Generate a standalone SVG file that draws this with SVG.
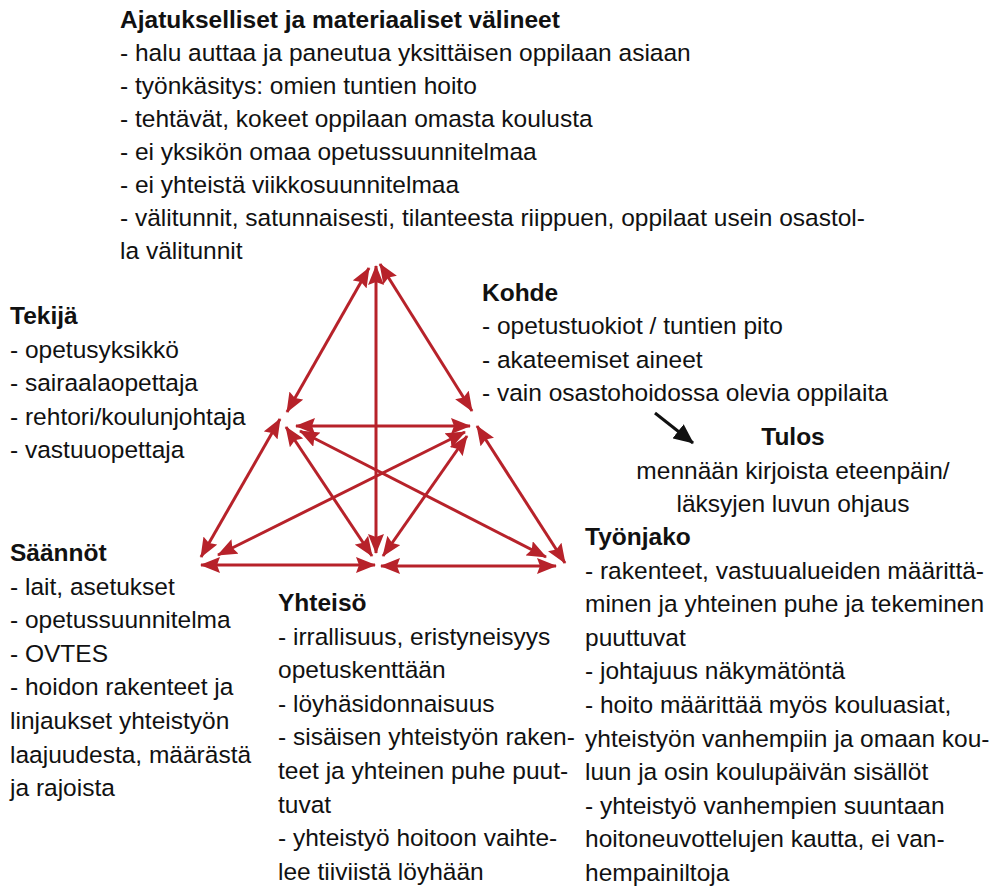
<svg xmlns="http://www.w3.org/2000/svg" width="995" height="891" viewBox="0 0 995 891">
<defs>
<marker id="ar" viewBox="0 0 20 16" markerWidth="20" markerHeight="16" refX="19" refY="8" orient="auto-start-reverse" markerUnits="userSpaceOnUse">
<path d="M0,0 L20,8 L0,16 L3,8 z" fill="#B7222A"/>
</marker>
<marker id="ab" viewBox="0 0 20 18" markerWidth="20" markerHeight="18" refX="19" refY="9" orient="auto" markerUnits="userSpaceOnUse">
<path d="M0,0 L20,9 L0,18 z" fill="#111"/>
</marker>
<style>
text{font-family:"Liberation Sans",Arial,sans-serif;font-size:24.5px;fill:#111}
.b{font-weight:bold}
.c line{stroke:#B7222A;stroke-width:3;marker-start:url(#ar);marker-end:url(#ar)}
</style>
</defs>
<rect width="995" height="891" fill="#fff"/>
<g class="c" id="connectors">
<line x1="369" y1="268" x2="287" y2="412"/>
<line x1="376" y1="266" x2="376" y2="553"/>
<line x1="380" y1="264" x2="472" y2="411"/>
<line x1="296" y1="426" x2="470" y2="426"/>
<line x1="280" y1="419" x2="201" y2="557"/>
<line x1="286" y1="427" x2="372" y2="556"/>
<line x1="300" y1="431" x2="546" y2="557"/>
<line x1="465" y1="432" x2="218" y2="555"/>
<line x1="467" y1="436" x2="383" y2="556"/>
<line x1="477" y1="426" x2="565" y2="563"/>
<line x1="201" y1="565" x2="375" y2="565"/>
<line x1="381" y1="566" x2="556" y2="566"/>
<line x1="655" y1="413" x2="693" y2="443" style="stroke:#111;marker-start:none;marker-end:url(#ab)"/>
</g>
<g id="valineet">
<text x="120" y="28" class="b">Ajatukselliset ja materiaaliset välineet</text>
<text x="120" y="61">- halu auttaa ja paneutua yksittäisen oppilaan asiaan</text>
<text x="120" y="94">- työnkäsitys: omien tuntien hoito</text>
<text x="120" y="127">- tehtävät, kokeet oppilaan omasta koulusta</text>
<text x="120" y="160">- ei yksikön omaa opetussuunnitelmaa</text>
<text x="120" y="193">- ei yhteistä viikkosuunnitelmaa</text>
<text x="120" y="226">- välitunnit, satunnaisesti, tilanteesta riippuen, oppilaat usein osastol-</text>
<text x="120" y="259">la välitunnit</text>
</g>
<g id="tekija">
<text x="10" y="324" class="b">Tekijä</text>
<text x="10" y="357.5">- opetusyksikkö</text>
<text x="10" y="391">- sairaalaopettaja</text>
<text x="10" y="424.5">- rehtori/koulunjohtaja</text>
<text x="10" y="458">- vastuuopettaja</text>
</g>
<g id="kohde">
<text x="482" y="301" class="b">Kohde</text>
<text x="482" y="334">- opetustuokiot / tuntien pito</text>
<text x="482" y="367.5">- akateemiset aineet</text>
<text x="482" y="401">- vain osastohoidossa olevia oppilaita</text>
</g>
<g id="tulos" text-anchor="middle">
<text x="793" y="445" class="b">Tulos</text>
<text x="793" y="478.5">mennään kirjoista eteenpäin/</text>
<text x="793" y="512">läksyjen luvun ohjaus</text>
</g>
<g id="tyonjako">
<text x="585" y="545" class="b">Työnjako</text>
<text x="585" y="578.6">- rakenteet, vastuualueiden määrittä-</text>
<text x="585" y="612.2">minen ja yhteinen puhe ja tekeminen</text>
<text x="585" y="645.8">puuttuvat</text>
<text x="585" y="679.4">- johtajuus näkymätöntä</text>
<text x="585" y="713">- hoito määrittää myös kouluasiat,</text>
<text x="585" y="746.6">yhteistyön vanhempiin ja omaan kou-</text>
<text x="585" y="780.2">luun ja osin koulupäivän sisällöt</text>
<text x="585" y="813.8">- yhteistyö vanhempien suuntaan</text>
<text x="585" y="847.4">hoitoneuvottelujen kautta, ei van-</text>
<text x="585" y="881">hempainiltoja</text>
</g>
<g id="saannot">
<text x="10" y="561" class="b">Säännöt</text>
<text x="10" y="594.6">- lait, asetukset</text>
<text x="10" y="628.2">- opetussuunnitelma</text>
<text x="10" y="661.8">- OVTES</text>
<text x="10" y="695.4">- hoidon rakenteet ja</text>
<text x="10" y="729">linjaukset yhteistyön</text>
<text x="10" y="762.6">laajuudesta, määrästä</text>
<text x="10" y="796.2">ja rajoista</text>
</g>
<g id="yhteiso">
<text x="278" y="611" class="b">Yhteisö</text>
<text x="278" y="644.6">- irrallisuus, eristyneisyys</text>
<text x="278" y="678.2">opetuskenttään</text>
<text x="278" y="711.8">- löyhäsidonnaisuus</text>
<text x="278" y="745.4">- sisäisen yhteistyön raken-</text>
<text x="278" y="779">teet ja yhteinen puhe puut-</text>
<text x="278" y="812.6">tuvat</text>
<text x="278" y="846.2">- yhteistyö hoitoon vaihte-</text>
<text x="278" y="879.8">lee tiiviistä löyhään</text>
</g>
</svg>
